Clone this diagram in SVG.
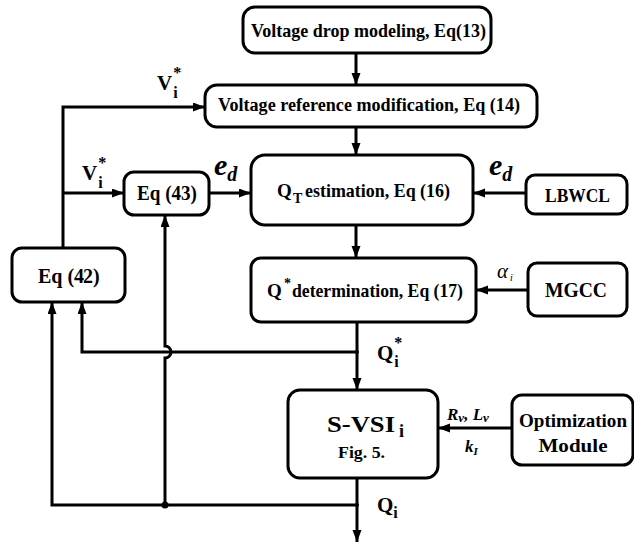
<svg xmlns="http://www.w3.org/2000/svg" width="634" height="546" viewBox="0 0 634 546" font-family="'Liberation Serif','Times New Roman',Times,serif">
<style>
.box{fill:#fff;stroke:#000;stroke-width:3}
.ln{fill:none;stroke:#000;stroke-width:3}
text{font-family:'Liberation Serif','Times New Roman',Times,serif;font-weight:bold;fill:#000}
.c{text-anchor:middle}
.it{font-style:italic}
</style>
<defs>
<marker id="ar" markerUnits="userSpaceOnUse" markerWidth="13" markerHeight="10" refX="12" refY="4.5" orient="auto">
<path d="M0,0 L12,4.5 L0,9 z" fill="#000"/>
</marker>
</defs>
<g id="connectors">
<path class="ln" d="M356,53 V85" marker-end="url(#ar)"/>
<path class="ln" d="M356,127 V155" marker-end="url(#ar)"/>
<path class="ln" d="M356,225 V258" marker-end="url(#ar)"/>
<path class="ln" d="M357,322 V390" marker-end="url(#ar)"/>
<path class="ln" d="M357,352 H82 V302" marker-end="url(#ar)"/>
<path class="ln" d="M63,248 V107 H205" marker-end="url(#ar)"/>
<path class="ln" d="M63,193 H124" marker-end="url(#ar)"/>
<path class="ln" d="M209,193 H251" marker-end="url(#ar)"/>
<path class="ln" d="M526,193 H473" marker-end="url(#ar)"/>
<path class="ln" d="M528,290 H476" marker-end="url(#ar)"/>
<path class="ln" d="M512,428 H438" marker-end="url(#ar)"/>
<path class="ln" d="M357,478 V542" marker-end="url(#ar)"/>
<path class="ln" d="M357,505 H52 V302" marker-end="url(#ar)"/>
<path class="ln" d="M165,505 V358 A6,6 0 0 0 165,346 V215" marker-end="url(#ar)"/>
<circle cx="165" cy="505" r="3.5" fill="#000"/>
<circle cx="357" cy="352" r="2" fill="#000"/>
<circle cx="357" cy="505" r="2" fill="#000"/>
</g>
<g id="n1"><rect class="box" x="243" y="7" width="248" height="46" rx="12"/>
<text x="251" y="37" font-size="19" textLength="235" lengthAdjust="spacingAndGlyphs">Voltage drop modeling, Eq(13)</text></g>
<g id="n2"><rect class="box" x="205" y="85" width="332" height="42" rx="12"/>
<text x="218" y="111" font-size="18" textLength="302" lengthAdjust="spacingAndGlyphs">Voltage reference modification, Eq (14)</text></g>
<g id="n3"><rect class="box" x="251" y="155" width="222" height="70" rx="14"/>
<text x="277" y="197" font-size="19">Q<tspan x="293" font-size="14" dy="6">T</tspan><tspan x="305" dy="-6" textLength="145" lengthAdjust="spacingAndGlyphs">estimation, Eq (16)</tspan></text></g>
<g id="n43"><rect class="box" x="124" y="172" width="85" height="43" rx="10"/>
<text x="137" y="200" font-size="20" textLength="60" lengthAdjust="spacingAndGlyphs">Eq (43)</text></g>
<g id="nLB"><rect class="box" x="526" y="175" width="101" height="39" rx="9"/>
<text x="545" y="202" font-size="18" textLength="65" lengthAdjust="spacingAndGlyphs">LBWCL</text></g>
<g id="n42"><rect class="box" x="12" y="248" width="113" height="54" rx="10"/>
<text x="38" y="283" font-size="20">Eq (4<tspan x="83">2)</tspan></text></g>
<g id="n4"><rect class="box" x="251" y="258" width="225" height="64" rx="10"/>
<text x="267" y="297" font-size="19">Q<tspan x="284" font-size="14" dy="-9">*</tspan><tspan x="292" dy="9" textLength="171" lengthAdjust="spacingAndGlyphs">determination, Eq (17)</tspan></text></g>
<g id="nMG"><rect class="box" x="528" y="263" width="99" height="53" rx="9"/>
<text x="545" y="297" font-size="20" textLength="62" lengthAdjust="spacingAndGlyphs">MGCC</text></g>
<g id="nSV"><rect class="box" x="288" y="390" width="150" height="88" rx="12"/>
<text x="327" y="432" font-size="24"><tspan textLength="68" lengthAdjust="spacingAndGlyphs">S-VSI</tspan><tspan x="399" font-size="18" dy="5">i</tspan></text>
<text x="338" y="458" font-size="16" textLength="47" lengthAdjust="spacingAndGlyphs">Fig. 5.</text></g>
<g id="nOpt"><rect class="box" x="512" y="395" width="121" height="70" rx="10"/>
<text class="c" x="573" y="427" font-size="19" textLength="108" lengthAdjust="spacingAndGlyphs">Optimization</text>
<text class="c" x="573" y="452" font-size="19" textLength="69" lengthAdjust="spacingAndGlyphs">Module</text></g>
<g id="labels">
<text x="157" y="90" font-size="21">V<tspan font-size="16" dx="1" dy="-12">*</tspan><tspan font-size="16" dx="-8" dy="20">i</tspan></text>
<text x="82" y="180" font-size="21">V<tspan font-size="16" dx="1" dy="-12">*</tspan><tspan font-size="16" dx="-8" dy="20">i</tspan></text>
<text class="it" x="214" y="175" font-size="30">e<tspan font-size="20" dy="6">d</tspan></text>
<text class="it" x="489" y="175" font-size="30">e<tspan font-size="20" dy="6">d</tspan></text>
<text class="it" x="497" y="278" font-size="21" style="font-weight:normal">α<tspan font-size="10" dx="2" dy="3">i</tspan></text>
<text x="377" y="360" font-size="21">Q<tspan font-size="16" dx="1" dy="-12">*</tspan><tspan font-size="16" dx="-8" dy="19">i</tspan></text>
<text class="it" x="447" y="420" font-size="17">R<tspan font-size="13" dy="2">v</tspan><tspan dy="-2">, L</tspan><tspan font-size="13" dy="2">v</tspan></text>
<text class="it" x="465" y="452" font-size="17">k<tspan font-size="11" dy="3">I</tspan></text>
<text x="377" y="512" font-size="21">Q<tspan font-size="16" dy="6">i</tspan></text>
</g>
</svg>
